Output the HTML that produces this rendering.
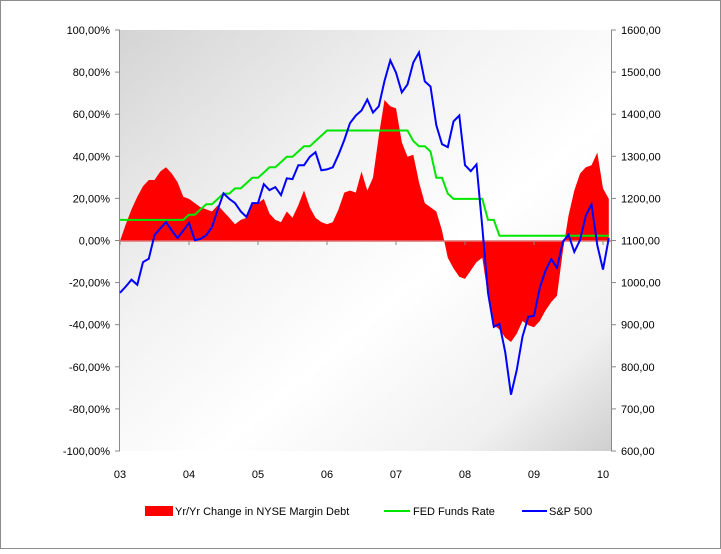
<!DOCTYPE html>
<html><head><meta charset="utf-8"><style>
body{margin:0;background:#fff;font-family:"Liberation Sans",sans-serif;}
#wrap{position:relative;width:721px;height:549px;}
</style></head><body>
<div id="wrap">
<svg id="chart" width="721" height="549" xmlns="http://www.w3.org/2000/svg">
<defs>
<linearGradient id="bg" x1="0" y1="0" x2="1" y2="1">
<stop offset="0" stop-color="#d4d4d4"/><stop offset="0.35" stop-color="#f2f2f2"/>
<stop offset="0.6" stop-color="#ffffff"/><stop offset="0.85" stop-color="#f0f0f0"/><stop offset="1" stop-color="#cfcfcf"/>
</linearGradient>
</defs>
<rect x="0.5" y="0.5" width="720" height="548" fill="#fff" stroke="#8c8c8c"/>
<rect x="120" y="30" width="491" height="421" fill="url(#bg)"/>
<g id="g"></g>
</svg>
</div>
<script>
const years = ["03","04","05","06","07","08","09","10"];
const leftTicks = ["100,00%","80,00%","60,00%","40,00%","20,00%","0,00%","-20,00%","-40,00%","-60,00%","-80,00%","-100,00%"];
const rightTicks = ["1600,00","1500,00","1400,00","1300,00","1200,00","1100,00","1000,00","900,00","800,00","700,00","600,00"];
const marginDebt = [0,8,15,21,26,29,29,33,35,32,28,21,20,18,16,15,14,17,14,11,8,10,11,18,18,20,13,10,9,14,11,17,24,16,11,9,8,9,15,23,24,23,33,24,30,50,67,64,63,47,40,41,28,18,16,14,5,-8,-13,-17,-18,-14,-10,-8,-26,-40,-42,-46,-48,-44,-38,-40,-41,-38,-33,-29,-26,-5,12,24,32,35,36,42,25,20];
const fedFunds = [10,10,10,10,10,10,10,10,10,10,10,10,12.5,12.5,15,17.5,17.5,20,22.5,22.5,25,25,27.5,30,30,32.5,35,35,37.5,40,40,42.5,45,45,47.5,50,52.5,52.5,52.5,52.5,52.5,52.5,52.5,52.5,52.5,52.5,52.5,52.5,52.5,52.5,52.5,47.5,45,45,42.5,30,30,22.5,20,20,20,20,20,20,10,10,2.5,2.5,2.5,2.5,2.5,2.5,2.5,2.5,2.5,2.5,2.5,2.5,2.5,2.5,2.5,2.5,2.5,2.5,2.5,2.5];
const sp500 = [977,992,1008,996,1050,1058,1114,1130,1145,1125,1107,1125,1143,1102,1105,1114,1133,1175,1213,1200,1190,1170,1157,1190,1190,1235,1221,1228,1209,1249,1247,1280,1280,1300,1311,1268,1270,1275,1305,1340,1380,1398,1410,1436,1405,1420,1480,1529,1500,1453,1472,1524,1548,1479,1467,1375,1330,1323,1384,1398,1280,1266,1282,1133,977,896,903,835,735,794,873,920,922,989,1030,1057,1036,1098,1115,1074,1102,1160,1187,1090,1032,1107];

const X0=120, PX=69/12, T=30, B=451;
const x = i => X0 + i*PX;
const yL = v => 241 - v*2.105;
const yR = v => 241 - (v-1100)*0.421;
const NS="http://www.w3.org/2000/svg";
const g=document.getElementById('g');
function mk(tag,attrs){const e=document.createElementNS(NS,tag);for(const k in attrs)e.setAttribute(k,attrs[k]);g.appendChild(e);return e;}

// red area
let d=`M${x(0)},${yL(0)}`;
marginDebt.forEach((v,i)=>d+=` L${x(i).toFixed(1)},${yL(v).toFixed(1)}`);
d+=` L${x(marginDebt.length-1).toFixed(1)},${yL(0)} Z`;
const area=mk('path',{d:d,fill:'#ff0000'});



// zero axis line
const zl=mk('line',{x1:120,x2:611,y1:yL(0),y2:yL(0),stroke:'#e07070','stroke-width':1.5});


// axes
const la=mk('line',{x1:119.5,x2:119.5,y1:T,y2:B,stroke:'#888'});


const ra=mk('line',{x1:611.5,x2:611.5,y1:T,y2:B,stroke:'#888'});



leftTicks.forEach((t,i)=>{
  const yy=T+i*(B-T)/10;
  mk('line',{x1:115,x2:120,y1:yy,y2:yy,stroke:'#888'});
  const tx=mk('text',{x:110,y:yy+4,'text-anchor':'end','font-size':11,fill:'#000'});
  tx.textContent=t;
  
  
});
rightTicks.forEach((t,i)=>{
  const yy=T+i*(B-T)/10;
  mk('line',{x1:611,x2:616,y1:yy,y2:yy,stroke:'#888'});
  const tx=mk('text',{x:621,y:yy+4,'font-size':11,fill:'#000'});
  tx.textContent=t;
  
  
});
years.forEach((t,i)=>{
  const xx=x(i*12);
  mk('line',{x1:xx,x2:xx,y1:241,y2:245,stroke:'#888'});
  const tx=mk('text',{x:xx,y:478,'text-anchor':'middle','font-size':11,fill:'#000'});
  tx.textContent=t;
  
  
});

const fp=mk('polyline',{points:fedFunds.map((v,i)=>x(i).toFixed(1)+','+yL(v).toFixed(1)).join(' '),fill:'none',stroke:'#00e600','stroke-width':2});


const sp=mk('polyline',{points:sp500.map((v,i)=>x(i).toFixed(1)+','+yR(v).toFixed(1)).join(' '),fill:'none',stroke:'#0000ff','stroke-width':2});



// legend
const l1=mk('rect',{x:145,y:506,width:28,height:10,fill:'#ff0000'});


const t1=mk('text',{x:175,y:515,'font-size':11});t1.textContent='Yr/Yr Change in NYSE Margin Debt';


const l2=mk('line',{x1:384,x2:410,y1:511,y2:511,stroke:'#00e600','stroke-width':2});


const t2=mk('text',{x:413,y:515,'font-size':11});t2.textContent='FED Funds Rate';


const l3=mk('line',{x1:522,x2:547,y1:511,y2:511,stroke:'#0000ff','stroke-width':2});


const t3=mk('text',{x:549,y:515,'font-size':11});t3.textContent='S&P 500';


</script>
</body></html>
